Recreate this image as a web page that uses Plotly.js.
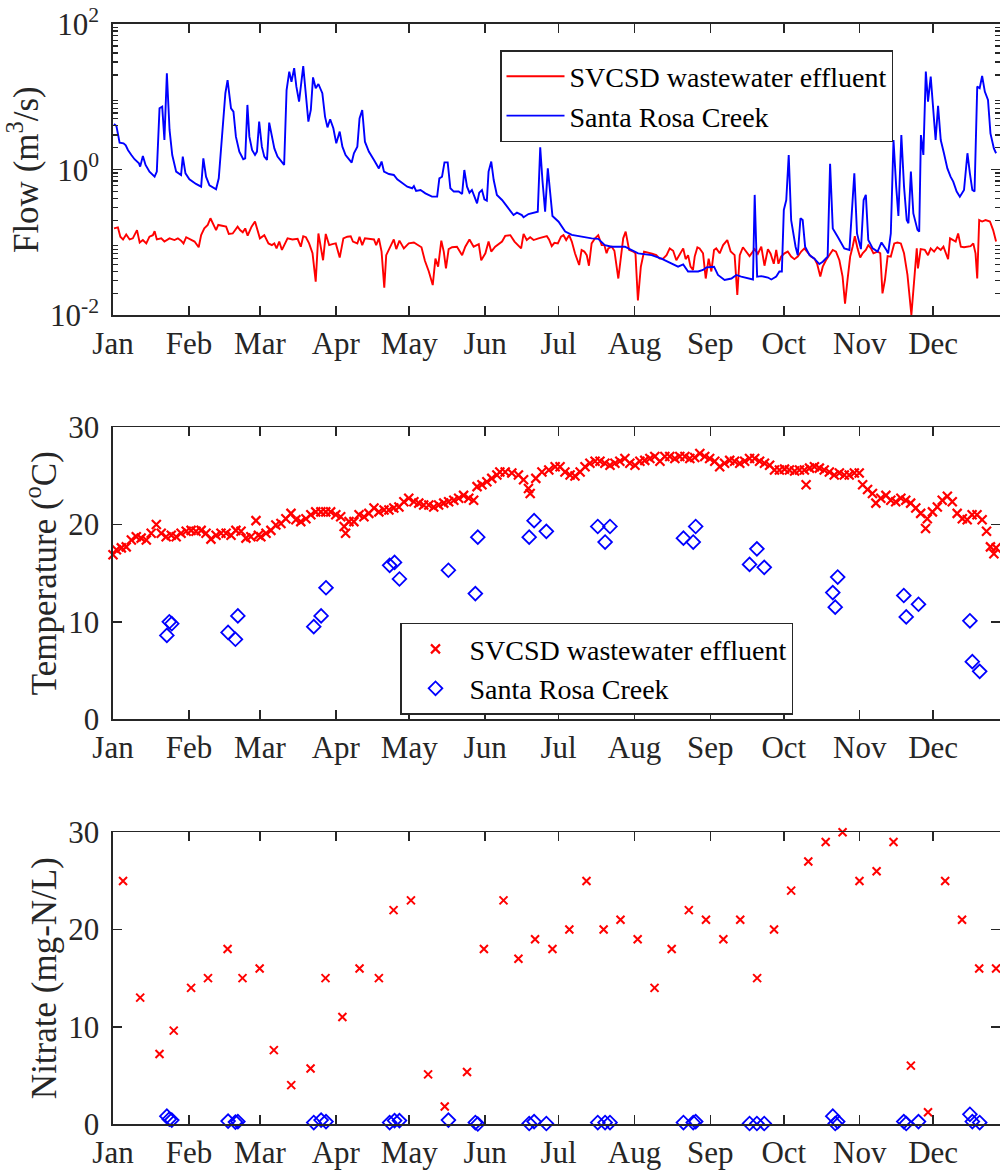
<!DOCTYPE html>
<html>
<head>
<meta charset="utf-8">
<script src="https://cdn.plot.ly/plotly-3.0.1.min.js"></script>
<style>
html,body{margin:0;padding:0;background:#fff;}
#chart{width:1000px;height:1174px;}
</style>
</head>
<body>
<div id="chart"></div>
<script>
// ---------- axis labels ----------
const monthStartDay = [0,31,60,91,121,152,182,213,244,274,305,335];
const monthNames = ['Jan','Feb','Mar','Apr','May','Jun','Jul','Aug','Sep','Oct','Nov','Dec'];
const seriesNames = ['SVCSD wastewater effluent','Santa Rosa Creek'];

// ---------- Flow (m3/s), Santa Rosa Creek ----------
const creekFlowDay = [0.4,1.4,2.7,4.3,5.2,6.1,7.5,8.8,10.6,11.1,12.2,13.3,14.9,17.0,17.9,19.0,20.1,21.0,22.0,23.1,24.2,25.8,27.8,28.5,29.6,31.2,33.9,36.0,36.9,38.0,39.4,42.1,43.2,44.5,45.9,46.8,48.2,49.2,50.2,51.6,53.2,54.0,54.9,55.7,56.8,58.0,58.8,59.7,60.8,61.8,62.9,63.8,64.9,65.9,67.2,69.0,69.9,70.9,72.0,72.9,74.0,74.9,76.0,77.7,78.8,79.8,80.8,81.7,82.8,83.9,85.5,86.6,87.6,88.7,90.0,91.2,92.6,93.7,95.0,97.5,98.4,99.8,100.7,101.8,102.9,104.5,106.6,108.6,109.7,110.7,112.7,114.7,116.1,118.1,120.2,122.2,122.9,123.8,125.6,127.6,130.3,132.4,133.3,134.4,135.4,136.7,137.8,139.2,141.2,142.6,143.5,144.6,145.6,146.6,147.6,148.7,149.6,150.7,151.7,152.7,153.4,154.5,155.5,156.8,158.9,161.6,163.6,165.0,167.0,167.7,169.7,173.5,174.5,175.4,176.5,177.6,178.6,179.5,182.0,184.7,187.4,191.4,195.5,198.2,200.9,203.7,209.1,214.5,220.0,224.0,228.1,230.8,232.9,234.9,239.0,241.0,242.4,245.5,247.1,249.8,252.6,254.6,256.6,261.4,262.1,263.1,264.8,267.5,268.9,270.9,272.2,273.2,274.0,275.0,276.0,277.0,278.8,279.7,280.8,281.7,282.7,284.5,286.5,288.5,289.9,291.9,292.9,294.0,296.0,298.7,300.8,301.8,302.8,303.9,305.5,306.6,307.5,308.5,310.3,312.3,313.9,315.7,316.6,317.7,318.8,319.9,320.8,322.0,323.1,324.2,324.9,325.9,326.9,328.6,329.3,330.0,331.0,332.0,332.9,334.0,335.0,336.0,337.0,338.1,339.4,340.8,342.1,343.2,344.6,345.9,347.6,349.0,350.0,351.0,351.9,353.0,354.0,355.0,356.1,357.4,358.4,359.8,360.7];
const creekFlow = [4.24,3.98,2.35,2.30,2.16,1.86,1.59,1.39,1.22,1.10,1.54,1.16,0.94,0.80,0.94,6.96,7.33,2.55,21,3.51,1.59,0.94,0.845,1.51,0.89,0.736,0.636,0.584,1.43,0.80,0.61,0.537,0.76,2.55,11.2,17,6.96,6.26,2.84,1.77,1.39,1.43,7.74,2.84,1.86,1.59,1.77,4.56,2.07,1.51,1.36,4.42,2.99,1.96,1.51,1.29,1.16,12.4,22.2,16.1,24.7,13.8,8.6,26.4,9.06,4.56,6.6,18.5,13.1,15,11.2,5.35,3.81,4.92,3.7,2.3,3.33,2.07,1.59,1.25,1.68,2.07,5.06,6.6,2.42,1.77,1.36,1.04,1.29,0.94,0.87,0.845,0.736,0.65,0.584,0.555,0.596,0.51,0.525,0.473,0.426,0.426,0.76,0.80,1.26,1.26,0.555,0.5,0.5,0.463,0.99,0.584,0.483,0.525,0.426,0.345,0.483,0.525,0.391,0.375,0.94,1.29,0.72,0.45,0.383,0.294,0.238,0.257,0.238,0.222,0.246,0.265,2.03,0.72,0.265,1.04,0.426,0.231,0.193,0.141,0.127,0.12,0.114,0.112,0.092,0.0875,0.0875,0.0708,0.067,0.060,0.051,0.0465,0.050,0.040,0.040,0.042,0.0455,0.0465,0.0358,0.0305,0.032,0.0358,0.034,0.031,0.45,0.034,0.0345,0.033,0.031,0.034,0.040,0.040,0.28,0.383,1.59,0.203,0.0875,0.067,0.215,0.203,0.0875,0.067,0.060,0.0506,0.0545,0.064,1.2,0.156,0.12,0.083,0.079,0.251,0.891,0.133,0.081,0.383,0.45,0.108,0.083,0.075,0.10,0.081,0.0708,0.133,2.55,0.584,0.231,2.99,0.584,0.203,0.184,0.94,0.251,0.149,0.141,2.99,1.59,22.2,8.6,18.9,5.94,2.55,7.5,2.55,1.68,1.04,0.80,0.684,0.5,0.426,0.525,1.68,0.891,0.525,0.5,13.8,13.1,19.3,11.8,9.06,3.15,1.96,1.68];

// ---------- Flow (m3/s), SVCSD wastewater effluent ----------
const effluentFlowDay = [0.4,2.0,3.0,4.1,5.4,6.8,8.1,9.8,10.9,12.2,13.6,14.9,16.3,17.0,17.9,19.7,21.0,23.1,25.1,26.5,27.8,28.8,29.9,31.9,33.3,35.0,36.0,37.3,38.7,39.8,41.0,42.1,43.0,44.8,46.2,47.3,48.9,50.9,51.9,53.0,54.0,55.0,56.6,58.0,59.1,60.0,61.8,63.5,64.9,65.9,66.8,67.9,69.0,70.2,71.3,73.3,75.4,76.7,77.7,78.8,80.1,81.5,82.8,83.9,84.9,85.8,86.9,88.3,89.6,91.0,92.6,94.1,95.7,97.1,98.0,99.8,100.7,101.8,102.9,104.5,106.6,107.5,108.6,109.7,110.8,111.6,113.4,114.7,115.7,117.0,118.8,120.8,122.9,124.6,126.0,127.4,129.0,130.6,131.7,132.8,134.1,135.1,136.0,137.1,138.5,140.5,142.6,143.9,145.6,147.3,149.4,150.4,152.1,153.4,154.5,156.1,158.9,160.2,162.3,164.0,165.6,166.7,167.7,169.0,170.4,171.8,173.8,175.8,177.2,178.1,179.2,180.3,181.7,183.0,184.0,185.1,186.3,187.4,188.7,190.4,191.4,192.5,193.5,194.4,195.5,196.9,198.2,199.6,200.7,201.6,202.3,203.7,204.8,206.4,207.5,208.4,209.4,210.8,212.5,213.4,214.4,215.6,216.9,218.5,220.2,221.9,223.3,224.7,226.1,227.4,228.8,230.1,231.5,232.9,233.9,234.9,235.9,236.9,237.6,238.7,239.6,241.0,242.1,243.3,244.4,245.5,246.4,247.8,249.2,250.9,252.3,253.9,255.0,256.0,257.3,258.7,260.0,262.1,263.4,264.8,266.1,267.5,268.6,269.9,270.9,271.8,272.9,274.3,275.6,277.0,278.3,279.7,281.1,282.4,283.8,285.1,286.5,287.6,288.9,289.9,291.2,292.6,294.0,295.3,296.7,298.0,299.0,300.0,301.1,302.1,303.0,304.1,305.2,306.2,307.5,308.5,309.6,310.6,312.3,313.4,314.3,315.3,316.4,317.7,319.1,320.4,321.8,323.1,324.5,326.1,327.2,328.3,328.8,329.9,331.6,332.9,334.0,335.4,336.7,338.1,339.2,340.2,341.1,341.9,343.3,344.2,345.2,346.3,347.6,349.0,350.3,351.4,352.3,353.0,353.8,355.0,356.4,358.2,359.5,360.7];
const effluentFlow = [0.156,0.161,0.12,0.110,0.129,0.110,0.114,0.148,0.1,0.108,0.097,0.12,0.126,0.143,0.110,0.114,0.103,0.114,0.108,0.114,0.106,0.097,0.118,0.110,0.103,0.086,0.126,0.156,0.174,0.215,0.180,0.148,0.174,0.168,0.165,0.131,0.133,0.165,0.148,0.138,0.156,0.124,0.165,0.194,0.148,0.114,0.126,0.097,0.092,0.097,0.083,0.103,0.079,0.095,0.114,0.110,0.112,0.0875,0.122,0.118,0.097,0.071,0.029,0.133,0.083,0.057,0.131,0.092,0.095,0.097,0.062,0.114,0.12,0.122,0.103,0.097,0.12,0.092,0.114,0.112,0.110,0.092,0.114,0.075,0.024,0.067,0.0875,0.110,0.081,0.106,0.083,0.097,0.1,0.092,0.086,0.056,0.040,0.026,0.060,0.0465,0.106,0.075,0.044,0.081,0.086,0.0875,0.067,0.0875,0.110,0.0875,0.095,0.057,0.071,0.103,0.075,0.0875,0.103,0.123,0.126,0.103,0.092,0.083,0.131,0.108,0.118,0.108,0.114,0.12,0.122,0.110,0.089,0.099,0.097,0.12,0.126,0.108,0.126,0.103,0.071,0.049,0.079,0.075,0.067,0.048,0.097,0.114,0.126,0.092,0.092,0.071,0.083,0.0875,0.077,0.032,0.071,0.114,0.141,0.079,0.075,0.071,0.016,0.0465,0.075,0.073,0.070,0.067,0.060,0.060,0.067,0.083,0.077,0.057,0.070,0.083,0.059,0.067,0.0465,0.042,0.064,0.086,0.083,0.071,0.032,0.060,0.040,0.079,0.083,0.071,0.092,0.108,0.075,0.067,0.019,0.067,0.086,0.075,0.065,0.081,0.070,0.0875,0.048,0.081,0.070,0.051,0.079,0.051,0.064,0.071,0.075,0.064,0.059,0.064,0.075,0.083,0.073,0.064,0.060,0.051,0.034,0.0465,0.057,0.067,0.079,0.075,0.057,0.034,0.0144,0.0305,0.064,0.0875,0.122,0.083,0.062,0.071,0.079,0.092,0.083,0.071,0.075,0.071,0.020,0.0305,0.065,0.064,0.097,0.1,0.097,0.071,0.036,0.0101,0.032,0.083,0.044,0.081,0.079,0.067,0.083,0.075,0.086,0.079,0.0875,0.073,0.059,0.114,0.108,0.103,0.133,0.0875,0.086,0.0875,0.089,0.097,0.071,0.032,0.203,0.194,0.203,0.194,0.148,0.103];

// ---------- Temperature (deg C) ----------
const effluentTempDay = [0,1.4,3.4,5.4,7.5,9.5,11.5,13.6,15.6,17.7,19.7,21.7,23.8,25.8,27.8,29.9,31.9,33.9,36.0,38.0,40.0,42.1,44.1,46.2,48.2,50.2,52.3,54.3,56.3,58.4,59.4,60.4,62.5,64.5,66.5,68.6,70.6,72.7,74.7,76.7,78.8,80.8,82.8,84.9,86.9,88.9,91.0,93.0,94.4,95.0,96.4,98.4,100.5,102.5,104.5,106.6,108.6,110.7,112.7,114.7,116.8,118.8,120.8,122.9,124.9,126.9,129.0,131.0,133.0,135.1,137.1,139.2,141.2,143.2,145.3,147.3,148.7,150.7,152.7,154.7,156.8,158.0,160.2,162.9,165.6,167.7,169.7,170.4,172.7,175.2,178.0,180.6,182.6,184.6,186.7,188.7,190.8,192.8,194.8,196.9,198.9,200.9,203.0,205.0,207.0,209.1,211.1,213.2,215.2,217.2,219.3,221.3,223.4,225.4,227.4,229.5,231.5,233.6,235.6,237.6,239.7,241.7,243.7,245.8,247.8,249.8,251.9,253.9,256.0,258.0,260.0,262.1,264.1,266.1,268.2,270.2,272.2,274.3,276.3,278.4,280.4,282.4,283.1,284.5,286.5,288.5,290.5,292.6,294.6,296.7,298.7,300.7,302.8,304.8,306.2,308.2,310.2,311.6,313.6,315.7,317.7,319.7,321.8,323.8,325.8,327.9,329.9,331.9,332.6,334.7,336.7,338.7,340.8,342.8,344.8,346.9,348.9,350.9,352.9,355.0,356.8,358.4,359.8,360.7];
const effluentTemp = [16.9,17.4,17.6,17.7,18.4,18.75,18.6,18.4,19.1,20.0,19.1,18.75,18.9,18.75,19.1,19.3,19.4,19.3,19.4,19.1,18.5,18.9,19.1,19.1,18.9,19.4,19.3,18.6,18.75,20.4,18.9,18.75,19.1,19.4,19.95,20.1,20.6,21.15,20.5,20.3,20.6,21.0,21.3,21.3,21.3,21.3,21.0,20.8,19.8,19.1,20.3,20.3,21.0,20.8,21.15,21.7,21.3,21.5,21.5,21.7,21.8,22.35,22.7,22.35,22.2,22.0,22.0,21.8,22.0,22.2,22.35,22.5,22.7,23.0,22.7,22.5,23.9,24.1,24.4,24.75,25.1,25.4,25.4,25.3,25.1,24.6,23.7,23.2,24.75,25.4,25.6,25.95,25.95,25.4,25.1,25.0,25.4,25.95,26.3,26.5,26.5,26.3,26.1,26.3,26.5,26.8,26.3,26.1,26.5,26.6,26.8,27.0,26.5,27.0,27.0,26.8,27.0,27.0,26.8,26.9,27.3,27.0,26.8,26.5,25.95,26.3,26.6,26.5,26.3,26.5,26.8,26.8,26.5,26.3,26.1,25.6,25.6,25.7,25.6,25.5,25.6,25.6,24.1,25.8,25.95,25.8,25.6,25.4,25.1,25.3,25.1,25.1,25.3,25.3,24.1,23.6,23.2,22.2,22.7,23.0,22.5,22.35,22.7,22.5,22.2,21.7,21.15,19.6,20.6,21.3,21.8,22.5,22.9,22.35,21.15,20.6,20.5,21.0,21.0,20.5,19.3,17.7,17.0,17.6];

// Santa Rosa Creek grab samples (same dates for temperature and nitrate)
const creekSampleDay = [22,23,24,47,50,51,82,85,87,113,115,117,137,148,149,170,172,177,198,201,203,233,237,238,260,263,266,294,295,296,323,324,329,350,351,354];
const creekTemp = [8.6,10.0,9.8,8.9,8.2,10.6,9.5,10.6,13.5,15.8,16.1,14.4,15.3,12.9,18.7,18.7,20.4,19.3,19.8,18.2,19.8,18.6,18.2,19.8,15.9,17.5,15.6,13.0,11.5,14.6,12.7,10.5,11.8,10.1,5.9,4.9];
const creekNitrate = [0.8,0.5,0.4,0.3,0.2,0.25,0.15,0.4,0.25,0.15,0.35,0.35,0.4,0.15,0.0,0.05,0.25,0.05,0.15,0.15,0.15,0.15,0.15,0.25,0.05,0.05,0.05,0.8,0.05,0.25,0.25,0.05,0.25,1.0,0.25,0.15];

// ---------- Nitrate (mg-N/L), effluent ----------
const effluentNitrateDay = [4.1,11.1,19.0,24.8,31.9,38.8,46.8,52.9,59.9,65.7,72.8,80.7,86.8,93.7,100.7,108.6,114.6,121.7,128.7,135.5,144.6,151.5,159.5,165.6,172.4,179.5,186.4,193.4,200.4,207.3,214.3,221.2,228.2,235.2,242.2,249.3,256.2,263.1,270.0,277.0,284.0,291.1,298.0,304.9,311.9,318.8,325.9,332.9,339.9,346.8,353.8,360.7];
const effluentNitrate = [25,13,7.2,9.6,14,15,18,15,16,7.6,4.0,5.7,15,11,16,15,22,23,5.1,1.8,5.35,18,23,17,19,18,20,25,20,21,19,14,18,22,21,19,21,15,20,24,27,29,30,25,26,29,6.0,1.2,25,21,16,16];

// ---------- styling ----------
const RED = '#ff0000', BLUE = '#0000ff', AX = '#262626';
const FONT = 'Liberation Serif, Times New Roman, serif';

const xMarkerT = {symbol:'x-thin-open', size:9, color:RED, line:{color:RED, width:2.2}};
const xMarkerN = {symbol:'x-thin-open', size:8, color:RED, line:{color:RED, width:2}};
const dMarker = {symbol:'diamond-open', size:10.5, color:BLUE, line:{color:BLUE, width:1.8}};

const traces = [
  {x:effluentFlowDay, y:effluentFlow, type:'scatter', mode:'lines', name:seriesNames[0],
   line:{color:RED, width:1.9}, xaxis:'x', yaxis:'y', legend:'legend'},
  {x:creekFlowDay, y:creekFlow, type:'scatter', mode:'lines', name:seriesNames[1],
   line:{color:BLUE, width:1.9}, xaxis:'x', yaxis:'y', legend:'legend'},
  {x:effluentTempDay, y:effluentTemp, type:'scatter', mode:'markers', name:seriesNames[0],
   marker:xMarkerT, xaxis:'x2', yaxis:'y2', legend:'legend2', cliponaxis:false},
  {x:creekSampleDay, y:creekTemp, type:'scatter', mode:'markers', name:seriesNames[1],
   marker:dMarker, xaxis:'x2', yaxis:'y2', legend:'legend2', cliponaxis:false},
  {x:effluentNitrateDay, y:effluentNitrate, type:'scatter', mode:'markers', name:seriesNames[0],
   marker:xMarkerN, xaxis:'x3', yaxis:'y3', showlegend:false, cliponaxis:false},
  {x:creekSampleDay, y:creekNitrate, type:'scatter', mode:'markers', name:seriesNames[1],
   marker:dMarker, xaxis:'x3', yaxis:'y3', showlegend:false, cliponaxis:false}
];

const H = 1174;
function dom(topPx, botPx){ return [1 - botPx/H, 1 - topPx/H]; }

function xAx(anchor){
  return {
    anchor:anchor, domain:[0,1], range:[0,362.3],
    tickmode:'array', tickvals:monthStartDay, ticktext:monthNames,
    ticks:'inside', ticklen:9, tickwidth:1.5, tickcolor:AX,
    showline:true, linecolor:AX, linewidth:1.6, mirror:'ticks',
    showgrid:false, zeroline:false, ticklabelstandoff:0,
    tickfont:{family:FONT, size:31, color:AX}
  };
}
function yAx(anchor, domain, title){
  return {
    anchor:anchor, domain:domain, range:[0,30],
    tickmode:'array', tickvals:[0,10,20,30],
    ticks:'inside', ticklen:9, tickwidth:1.5, tickcolor:AX,
    showline:true, linecolor:AX, linewidth:1.6, mirror:'ticks',
    showgrid:false, zeroline:false, ticklabelstandoff:6,
    tickfont:{family:FONT, size:31, color:AX},
    title:{text:title, font:{family:FONT, size:35, color:AX}, standoff:1}
  };
}

const minorLog = [];
[0.01,0.1,1,10].forEach(function(d){ for(let k=2;k<=9;k++) minorLog.push(k*d); });

const yTop = yAx('x', dom(24,315.3), 'Flow (m<sup>3</sup>/s)');
yTop.type = 'log';
yTop.range = [-2,2];
yTop.tickvals = [0.01,1,100];
yTop.ticktext = ['10<sup>-2</sup>','10<sup>0</sup>','10<sup>2</sup>'];
yTop.minor = {tickmode:'array', tickvals:minorLog, ticks:'inside', ticklen:5, tickwidth:1.2, tickcolor:AX, showgrid:false};

const legendStyle = {
  xanchor:'left', yanchor:'top', bgcolor:'#ffffff', bordercolor:AX, borderwidth:1.5,
  font:{family:FONT, size:28, color:'#000'}, itemwidth:58, tracegroupgap:0
};

const layout = {
  width:1000, height:H,
  margin:{l:113, r:0, t:0, b:0},
  paper_bgcolor:'#ffffff', plot_bgcolor:'#ffffff',
  showlegend:true,
  xaxis:xAx('y'), xaxis2:xAx('y2'), xaxis3:xAx('y3'),
  yaxis:yTop,
  yaxis2:yAx('x2', dom(427.3,719), 'Temperature (<sup>o</sup>C)'),
  yaxis3:yAx('x3', dom(832.3,1124), 'Nitrate (mg-N/L)'),
  legend:Object.assign({x:(500-113)/887, y:1-50/H}, legendStyle),
  legend2:Object.assign({x:(400-113)/887, y:1-622.7/H}, legendStyle)
};

Plotly.newPlot('chart', traces, layout, {displayModeBar:false, staticPlot:true});
</script>
</body>
</html>
